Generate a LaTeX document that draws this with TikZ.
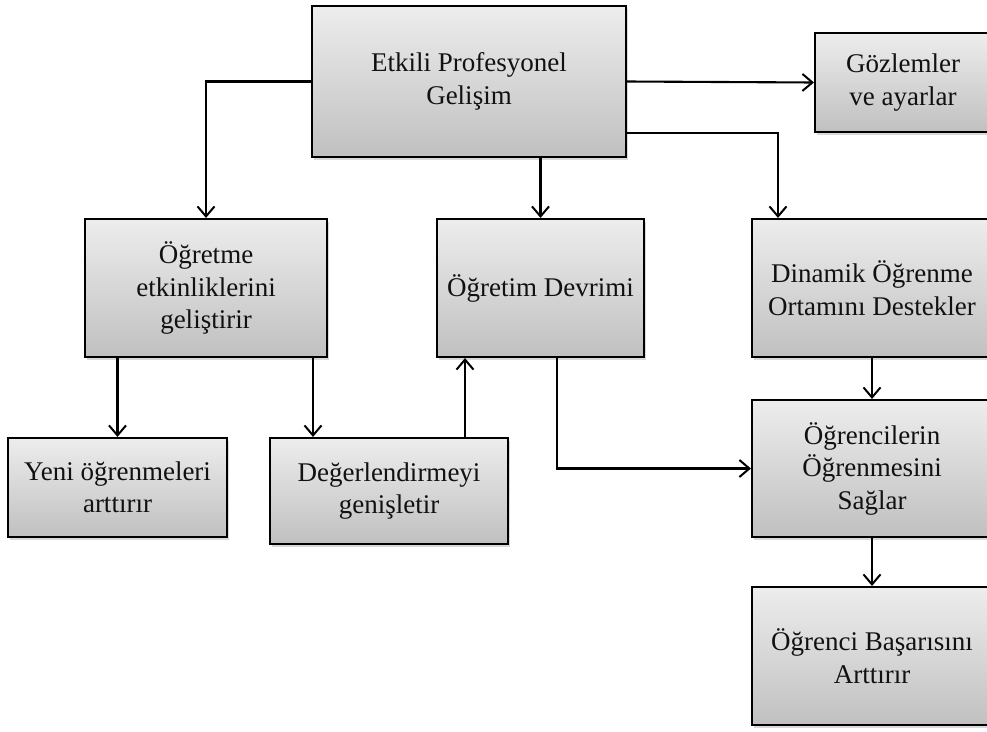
\documentclass[tikz,border=0pt]{standalone}
\usepackage{fontspec}
\setmainfont{Liberation Serif}
\usetikzlibrary{arrows.meta,shadows}
\definecolor{boxtop}{HTML}{EDEDED}
\definecolor{boxbot}{HTML}{C0C0C0}
\definecolor{txt}{HTML}{111111}
\tikzset{
  box/.style={draw=black, line width=2.1pt, rectangle, inner sep=0pt,
    top color=boxtop, bottom color=boxbot, align=center, text=txt,
    font=\fontsize{27}{32.5}\selectfont,
    drop shadow={opacity=0.3, shadow xshift=2pt, shadow yshift=-2.5pt}},
  arr/.style={line width=2.1pt, -{Straight Barb[length=10pt,width=17pt,line width=2pt]}}
}
\begin{document}
\begin{tikzpicture}[x=1pt,y=-1pt]
\useasboundingbox (0,0) rectangle (987,731);
\clip (0,0) rectangle (987,731);
\node[box, minimum width=314pt, minimum height=151pt] (etk) at (469,81.5) {Etkili Profesyonel\\Gelişim};
\node[box, minimum width=176pt, minimum height=99pt] (goz) at (903,82.5) {Gözlemler\\ve ayarlar};
\node[box, minimum width=242pt, minimum height=138pt] (ogm) at (206,288) {Öğretme\\etkinliklerini\\geliştirir};
\node[box, minimum width=207pt, minimum height=138pt] (dev) at (540.5,288) {Öğretim Devrimi};
\node[box, minimum width=240pt, minimum height=138pt] (din) at (872,288) {Dinamik Öğrenme\\Ortamını Destekler};
\node[box, minimum width=219pt, minimum height=99pt] (yeni) at (117.5,487.5) {Yeni öğrenmeleri\\arttırır};
\node[box, minimum width=238pt, minimum height=106pt] (deg) at (389,491) {Değerlendirmeyi\\genişletir};
\node[box, minimum width=240pt, minimum height=137pt] (ogr) at (872,468.5) {Öğrencilerin\\Öğrenmesini\\Sağlar};
\node[box, minimum width=240pt, minimum height=138pt] (bas) at (872,656) {Öğrenci Başarısını\\Arttırır};

\coordinate (p1) at ([xshift=-76pt]deg.north);
\coordinate (q1) at ([xshift=76pt]deg.north);
\coordinate (r1) at ([yshift=25pt]etk.south east);
\coordinate (r2) at ([xshift=-94pt]din.north);
\coordinate (s1) at ([xshift=16.5pt]dev.south);

\draw[arr] (etk.west) -| (ogm.north);
\draw[arr] (etk.east) -- (goz.west);
\draw[arr] (dev.north |- etk.south) -- (dev.north);
\draw[arr] (r1) -| (r2);
\draw[arr] (yeni.north |- ogm.south) -- (yeni.north);
\draw[arr] (p1 |- ogm.south) -- (p1);
\draw[arr] (q1) -- (q1 |- dev.south);
\draw[arr] (s1) |- (ogr.west);
\draw[arr] (din.south) -- (ogr.north);
\draw[arr] (ogr.south) -- (bas.north);
\end{tikzpicture}
\end{document}
